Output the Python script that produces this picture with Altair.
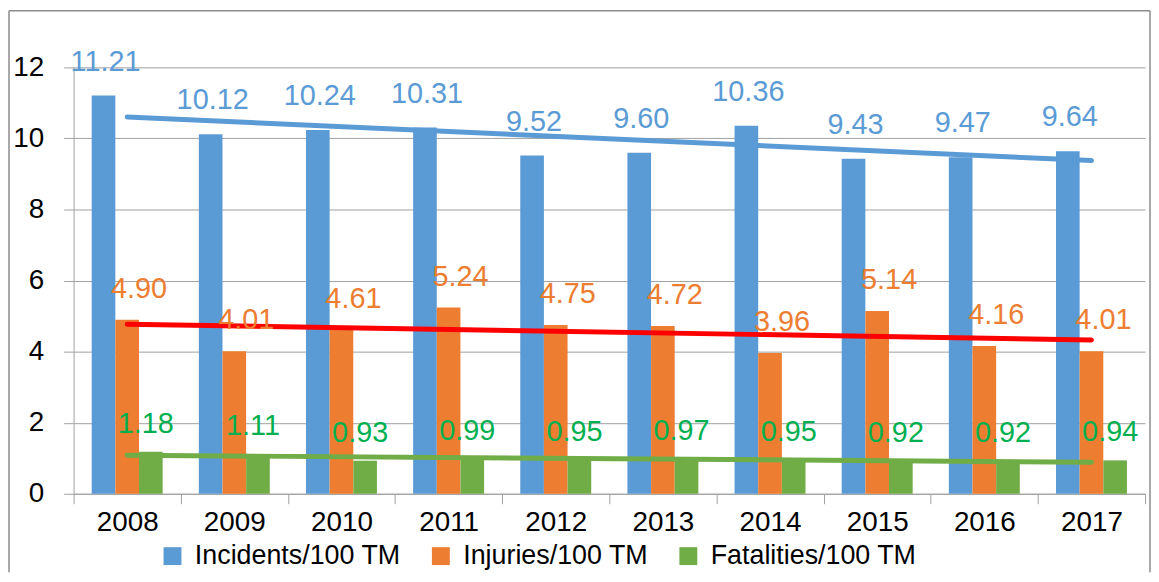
import altair as alt
import pandas as pd

years = [2008, 2009, 2010, 2011, 2012, 2013, 2014, 2015, 2016, 2017]
incidents = [11.21, 10.12, 10.24, 10.31, 9.52, 9.60, 10.36, 9.43, 9.47, 9.64]
injuries = [4.90, 4.01, 4.61, 5.24, 4.75, 4.72, 3.96, 5.14, 4.16, 4.01]
fatalities = [1.18, 1.11, 0.93, 0.99, 0.95, 0.97, 0.95, 0.92, 0.92, 0.94]
series_names = ["Incidents/100 TM", "Injuries/100 TM", "Fatalities/100 TM"]
bar_colors = ["#5B9BD5", "#ED7D31", "#70AD47"]
label_colors = ["#5B9BD5", "#ED7D31", "#00B050"]
trend_colors = ["#5B9BD5", "#FF0000", "#70AD47"]
y_ticks = [0, 2, 4, 6, 8, 10, 12]

FONT = "Liberation Sans"
GRAY = "#A0A0A0"

rows = []
for name, vals in zip(series_names, [incidents, injuries, fatalities]):
    for yr, v in zip(years, vals):
        rows.append({"Year": yr, "Series": name, "Value": v})
df = pd.DataFrame(rows)

W, H = 1078, 429

base = alt.Chart(df)

x_band_axis = alt.Axis(
    title=None, tickBand="extent", labelAngle=0, labelFontSize=28, labelFont=FONT,
    labelColor="#000000", labelPadding=5, tickSize=10, tickColor=GRAY,
    domainColor=GRAY, grid=False,
)
x_band_scale = alt.Scale(paddingInner=0, paddingOuter=0)
xoff = alt.XOffset(
    "Series:N",
    scale=alt.Scale(domain=series_names, paddingOuter=0.765, paddingInner=0),
)
y_enc = alt.Y(
    "Value:Q",
    scale=alt.Scale(domain=[0, 12], nice=False),
    axis=alt.Axis(
        title=None, values=y_ticks, labelFontSize=28, labelFont=FONT,
        labelColor="#000000", labelPadding=20, tickSize=10, tickColor=GRAY,
        domainColor=GRAY, grid=True, gridColor=GRAY, minExtent=65, maxExtent=65,
    ),
)

bars = base.mark_bar().encode(
    x=alt.X("Year:O", scale=x_band_scale, axis=x_band_axis),
    xOffset=xoff,
    y=y_enc,
    color=alt.Color(
        "Series:N",
        scale=alt.Scale(domain=series_names, range=bar_colors),
        legend=alt.Legend(
            title=None, orient="none", legendX=86, legendY=478,
            direction="horizontal", symbolType="square", symbolSize=324,
            symbolStrokeWidth=0, labelFontSize=27, labelFont=FONT,
            labelColor="#000000", labelOffset=9, columnPadding=26,
            labelLimit=0,
        ),
    ),
)

dxs = [2, 12, -5]
dys = [-34, -31, -28]

trends = []
texts = []
for i, s in enumerate(series_names):
    trends.append(
        base.transform_filter(alt.datum.Series == s)
        .transform_regression("Year", "Value")
        .mark_line(color=trend_colors[i], strokeWidth=5, strokeCap="round")
        .encode(
            x=alt.X("Year:Q", scale=alt.Scale(domain=[2007.5, 2017.5], nice=False, zero=False), axis=None),
            y=alt.Y("Value:Q"),
        )
    )
    texts.append(
        base.transform_filter(alt.datum.Series == s)
        .mark_text(color=label_colors[i], fontSize=29, font=FONT, dx=dxs[i], dy=dys[i], baseline="middle")
        .encode(
            x=alt.X("Year:O", scale=x_band_scale, axis=None),
            xOffset=xoff,
            y=alt.Y("Value:Q"),
            text=alt.Text("Value:Q", format=".2f"),
        )
    )

frame_df = pd.DataFrame({"k": [0]})
frame = alt.Chart(frame_df)
f_left = frame.mark_rule(color="#8C8C8C", strokeWidth=1.5).encode(
    x=alt.value(-65), y=alt.value(-57), y2=alt.value(508))
f_top = frame.mark_rule(color="#8C8C8C", strokeWidth=1.5).encode(
    x=alt.value(-65), x2=alt.value(W + 5), y=alt.value(-57))
f_right = frame.mark_rule(color="#8C8C8C", strokeWidth=1.5).encode(
    x=alt.value(W + 5), y=alt.value(-57), y2=alt.value(508))

chart = (
    alt.layer(bars, *trends, *texts, f_left, f_top, f_right)
    .resolve_scale(x="independent")
    .properties(width=W, height=H, padding={"left": 0, "top": 0, "right": 0, "bottom": 0})
    .configure_view(stroke=None)
)

chart.save("out.html", embed_options={"renderer": "svg", "actions": False})
